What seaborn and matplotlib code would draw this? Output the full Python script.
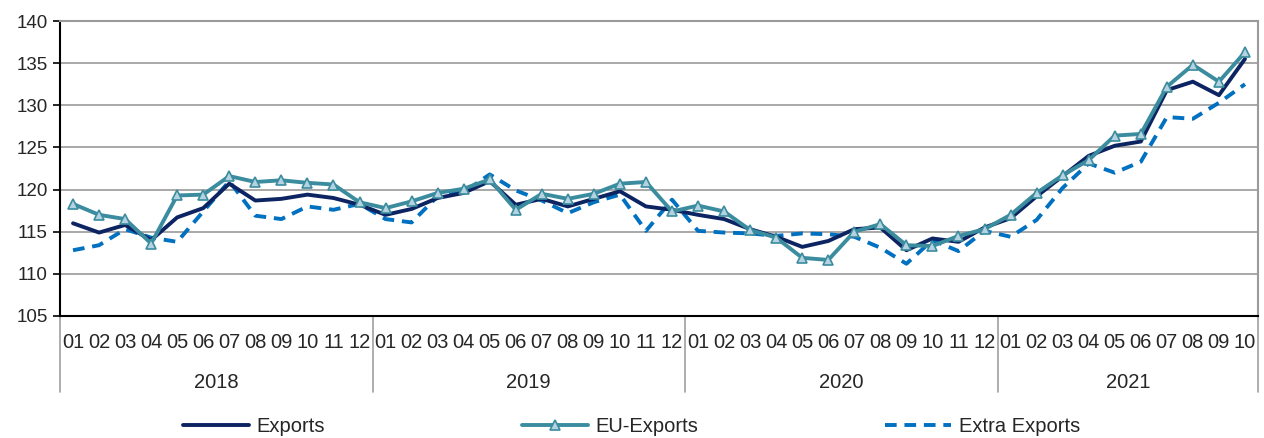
import matplotlib
matplotlib.use("Agg")
import matplotlib.pyplot as plt
import matplotlib.transforms as mtransforms
import pandas as pd
import seaborn as sns

years = ["2018", "2019", "2020", "2021"]
months_per_year = [12, 12, 12, 10]

exports = [116.0, 114.9, 115.8, 114.0, 116.7, 117.8, 120.7, 118.7, 118.9, 119.4, 119.0, 118.2,
           117.0, 117.7, 119.0, 119.6, 121.0, 118.2, 118.9, 118.0, 118.9, 119.8, 118.0, 117.6,
           117.0, 116.5, 115.3, 114.4, 113.2, 113.9, 115.3, 115.5, 112.8, 114.2, 113.8, 115.5,
           116.6, 119.2, 121.6, 124.0, 125.2, 125.7, 131.8, 132.8, 131.2, 135.5]
eu_exports = [118.3, 117.0, 116.5, 113.6, 119.3, 119.4, 121.6, 120.9, 121.1, 120.8, 120.6, 118.5,
              117.8, 118.6, 119.6, 120.1, 121.2, 117.6, 119.5, 118.9, 119.5, 120.7, 120.9, 117.4,
              118.1, 117.4, 115.2, 114.3, 111.9, 111.65, 115.0, 115.9, 113.4, 113.3, 114.5, 115.3,
              117.0, 119.6, 121.7, 123.5, 126.4, 126.6, 132.2, 134.8, 132.8, 136.3]
extra_exports = [112.8, 113.4, 115.3, 114.3, 113.8, 117.4, 121.0, 116.9, 116.5, 118.0, 117.6, 118.3,
                 116.5, 116.1, 119.2, 119.7, 121.8, 119.9, 118.7, 117.2, 118.5, 119.4, 115.1, 118.8,
                 115.1, 114.9, 114.8, 114.5, 114.8, 114.7, 114.4, 113.1, 111.2, 114.0, 112.7, 115.1,
                 114.4, 116.4, 120.2, 123.1, 122.0, 123.3, 128.6, 128.4, 130.3, 132.5]

month_labels = []
for n in months_per_year:
    month_labels += ["%02d" % (m + 1) for m in range(n)]

df = pd.DataFrame({
    "idx": range(len(exports)),
    "Exports": exports,
    "EU-Exports": eu_exports,
    "Extra Exports": extra_exports,
})

sns.set_style("white")
plt.rcParams["font.family"] = ["Liberation Sans", "DejaVu Sans"]

fig = plt.figure(figsize=(12.64, 4.38), dpi=100)
ax = fig.add_axes([60 / 1264, 1 - 316 / 438, 1198 / 1264, 295 / 438])

c_exp = "#0D2463"
c_eu = "#3A8C9E"
c_extra = "#0070C0"

sns.lineplot(data=df, x="idx", y="Exports", ax=ax, color=c_exp, lw=2.8, label="Exports", zorder=3)
sns.lineplot(data=df, x="idx", y="EU-Exports", ax=ax, color=c_eu, lw=2.8, marker="^",
             markersize=7, markerfacecolor="#B4D2E0", markeredgecolor=c_eu, markeredgewidth=1.2,
             label="EU-Exports", zorder=4)
sns.lineplot(data=df, x="idx", y="Extra Exports", ax=ax, color=c_extra, lw=2.8,
             linestyle=(0, (3, 2)), label="Extra Exports", zorder=2)

n = len(exports)
ax.set_xlim(-0.5, n - 0.5)
ax.set_ylim(105, 140)
ax.set_yticks(range(105, 141, 5))
ax.yaxis.grid(True, color="#9A9A9A", lw=1.2)
ax.set_axisbelow(True)
ax.set_xlabel("")
ax.set_ylabel("")

for s in ["left", "bottom"]:
    ax.spines[s].set_color("black")
    ax.spines[s].set_linewidth(1.5)
for s in ["top", "right"]:
    ax.spines[s].set_color("#9A9A9A")
    ax.spines[s].set_linewidth(1.5)

# month separators as major ticks, labels as minor ticks
ax.set_xticks([i - 0.5 for i in range(n + 1)])
ax.set_xticklabels([])
ax.tick_params(axis="x", which="major", length=27, color="#A0A0A0", width=1.2, direction="out")
ax.set_xticks(range(n), minor=True)
ax.set_xticklabels(month_labels, minor=True)
ax.tick_params(axis="x", which="minor", length=0, pad=12, labelsize=14.5)
ax.tick_params(axis="y", length=5, width=1.2, color="black", labelsize=13.5, pad=4, direction="out", left=True)

trans = mtransforms.blended_transform_factory(ax.transData, ax.transAxes)
start = 0
bounds = [-0.5]
for year, m in zip(years, months_per_year):
    ax.text(start + (m - 1) / 2, -0.227, year, transform=trans, ha="center", va="center", fontsize=14.5)
    start += m
    bounds.append(start - 0.5)
for b in bounds:
    ax.plot([b, b], [0, -0.258], transform=trans, color="#A0A0A0", lw=1.2, clip_on=False)

handles, labels = ax.get_legend_handles_labels()
ax.get_legend().remove()
for h, l, xpos in zip(handles, labels, [183, 522, 885]):
    fig.legend([h], [l], loc="center left", bbox_to_anchor=(xpos / 1264, 1 - 427 / 438),
               frameon=False, fontsize=14.5, handlelength=3.3, handletextpad=0.35,
               borderpad=0, borderaxespad=0)

fig.savefig("out.png", dpi=100)
